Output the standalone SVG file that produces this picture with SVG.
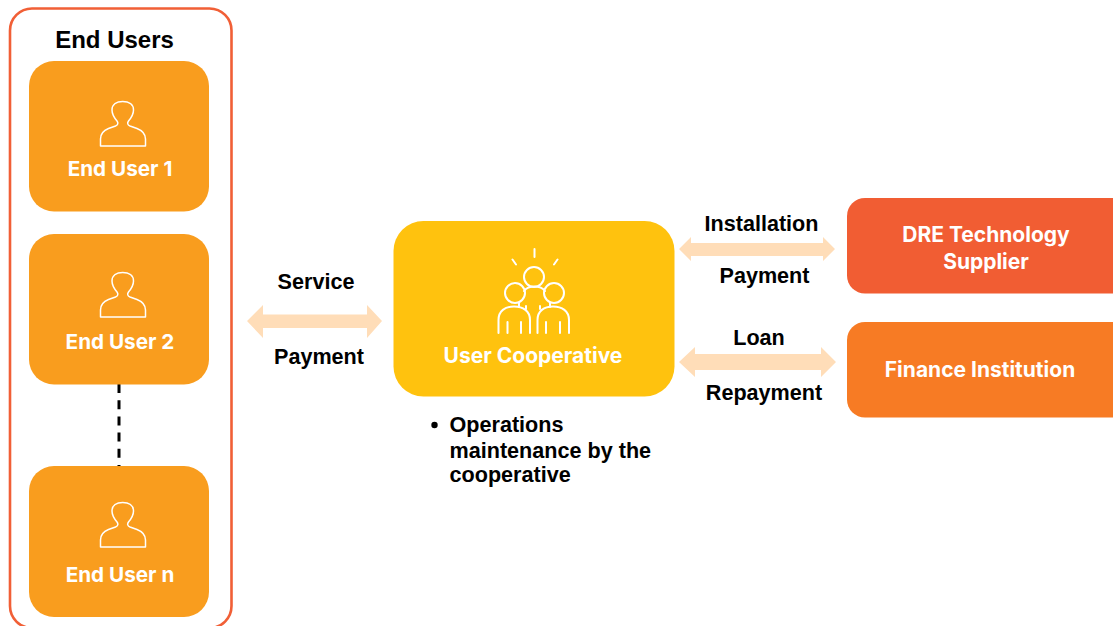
<svg xmlns="http://www.w3.org/2000/svg" width="1113" height="626" viewBox="0 0 1113 626">
<style>
.lbl{font-family:"Liberation Sans",Arial,sans-serif;font-weight:700;font-size:21.600px;fill:#000}
.nt{font-family:Inter,"Liberation Sans",sans-serif;font-weight:700;font-size:21px;fill:#fff;text-anchor:middle}
.nu{font-size:20.700px}
.user{fill:#F99D1E}
.ico{fill:none;stroke:#fff;stroke-width:1.500;stroke-linejoin:round;stroke-linecap:round}
.ico2{fill:none;stroke:#fff;stroke-width:2;stroke-linecap:round}
.arr{fill:#FFDDB8}
</style>
<defs>
<path id="person" class="ico" d="M100.500 146H145.500V139C145.500 133 142 130.500 137 128.500L130 126C127.500 125 127 123 128.500 121C131.500 117.500 133.500 114 133.500 110C133.500 104.500 129 101.500 122.700 101.500C116.500 101.500 112 104.500 112 110C112 114 114 117.500 117 121C118.500 123 118 125 115.500 126L108.500 128.500C103.500 130.500 100.500 133 100.500 139Z"/>
</defs>
<rect id="end-users" x="10" y="8.500" width="221.500" height="619.500" rx="22" fill="#fff" stroke="#F15F36" stroke-width="2.600"/>
<text class="lbl" x="114.500" y="48" text-anchor="middle" style="font-size:24px">End Users</text>
<g id="connectors">
<line x1="119" y1="384" x2="119" y2="467" stroke="#000" stroke-width="3" stroke-dasharray="9 7.200"/>
<polygon class="arr" points="247,321 263,305 263,314.500 367,314.500 367,305 382,321 367,338 367,328 263,328 263,338"/>
<polygon class="arr" points="679,249 691,237 691,243 823,243 823,237 835,249 823,261 823,256 691,256 691,261"/>
<polygon class="arr" points="679,362 695,347 695,354 821,354 821,347 836,362 821,377 821,370 695,370 695,377"/>
</g>
<g id="end-user-1"><rect class="user" x="29" y="61" width="180" height="150.500" rx="25"/><use href="#person"/><text class="nt nu" x="120" y="176">End User 1</text></g>
<g id="end-user-2"><rect class="user" x="29" y="234" width="180" height="150.500" rx="25"/><use href="#person" y="171"/><text class="nt nu" x="120" y="349">End User 2</text></g>
<g id="end-user-n"><rect class="user" x="29" y="466" width="180" height="151" rx="25"/><use href="#person" y="401"/><text class="nt nu" x="120" y="582">End User n</text></g>
<g id="user-cooperative">
<rect x="393.500" y="221" width="281" height="175.500" rx="30" fill="#FFC20E"/>
<g class="ico2">
<path d="M534.500 249V257M512.500 259.500L516 264.500M557.500 259.500L554 264.500"/>
<circle cx="534" cy="277" r="10"/><circle cx="515" cy="293" r="10"/><circle cx="554" cy="293" r="10"/>
<path d="M519 302.500V307M550 302.500V307M524 291C527 287 530 286.500 534.500 286.500C539 286.500 542 287 545 291"/>
<path d="M498.500 333V320C498.500 311 505 306.500 514 306.500C523 306.500 530 311 530 320V333"/>
<path d="M537.500 333V320C537.500 311 544 306.500 553 306.500C562 306.500 569 311 569 320V333"/>
<path d="M507.500 322V333M521 322V333M546 322V333M560 322V333M526 306V309M540 306V309"/>
</g>
<text class="nt" x="533" y="363">User Cooperative</text>
</g>
<g id="dre-supplier"><rect x="847" y="198" width="290" height="95.500" rx="18" fill="#F15D33"/><text class="nt" x="986" y="242">DRE Technology</text><text class="nt" x="986" y="269">Supplier</text></g>
<g id="finance-institution"><rect x="847" y="322" width="290" height="95.500" rx="18" fill="#F77B24"/><text class="nt" x="980" y="377">Finance Institution</text></g>
<g id="labels">
<text class="lbl" x="316" y="289" text-anchor="middle">Service</text>
<text class="lbl" x="319" y="364" text-anchor="middle">Payment</text>
<text class="lbl" x="761.500" y="231" text-anchor="middle">Installation</text>
<text class="lbl" x="764.500" y="283" text-anchor="middle">Payment</text>
<text class="lbl" x="759" y="345" text-anchor="middle">Loan</text>
<text class="lbl" x="764" y="400" text-anchor="middle">Repayment</text>
<circle cx="434.500" cy="425" r="3.200" fill="#000"/>
<text class="lbl" x="449.500" y="432">Operations</text>
<text class="lbl" x="449.500" y="457.500">maintenance by the</text>
<text class="lbl" x="449.500" y="482">cooperative</text>
</g>
</svg>
